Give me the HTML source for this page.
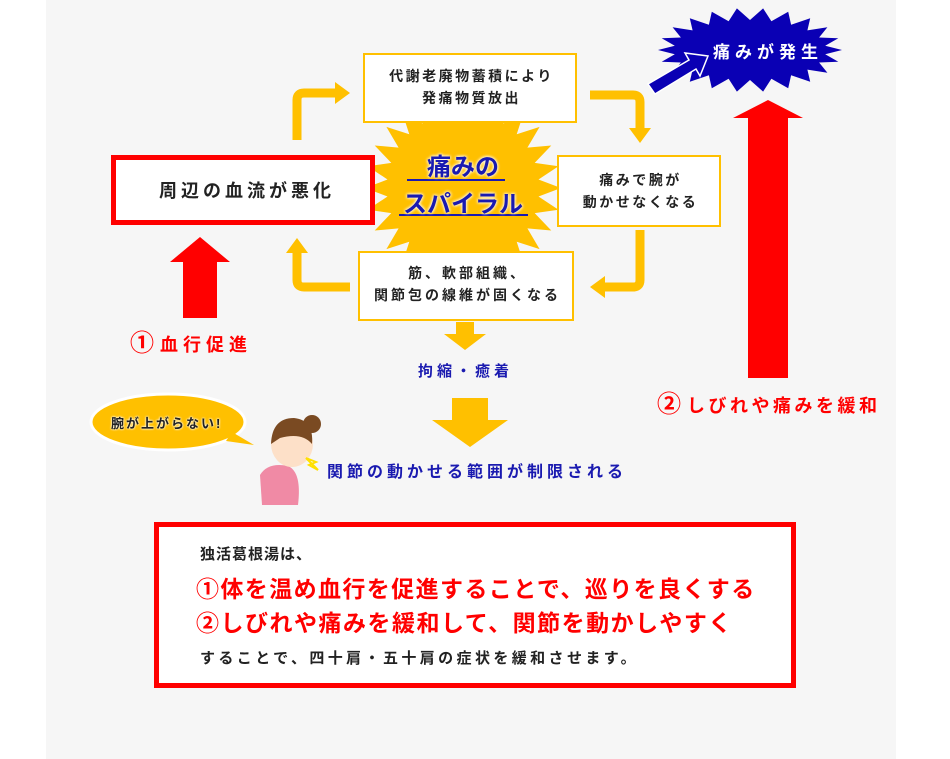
<!DOCTYPE html>
<html><head><meta charset="utf-8"><style>
body{margin:0;width:950px;height:759px;background:#fff;position:relative;overflow:hidden;font-family:"Liberation Sans","Noto Sans CJK JP",sans-serif;font-weight:bold}
.t{position:absolute;white-space:nowrap}
</style></head><body>
<div style="position:absolute;left:46px;top:0;width:850px;height:759px;background:#f6f6f6"></div>
<svg width="950" height="759" style="position:absolute;left:0;top:0">
<polygon id="sb" fill="#ffc000"/>
<polygon id="bb" fill="#0a00b4"/>
<polygon points="648,84 689,60 685,53 708,56 700,76 696,69 655,94" fill="#0a00b4" stroke="#fff" stroke-width="1.5"/>
<rect x="364" y="54" width="212" height="68" fill="#fff" stroke="#ffc000" stroke-width="2"/>
<rect x="558" y="156" width="162" height="70" fill="#fff" stroke="#ffc000" stroke-width="2"/>
<rect x="359" y="252" width="214" height="68" fill="#fff" stroke="#ffc000" stroke-width="2"/>
<rect x="113.5" y="157.5" width="259" height="65" fill="#fff" stroke="#f00" stroke-width="5"/>
<g fill="none" stroke="#ffc000" stroke-width="9">
<path d="M297,140 V100 Q297,93 304,93 H336"/>
<path d="M590,95 H633 Q640,95 640,102 V130"/>
<path d="M640,230 V280 Q640,287 633,287 H604"/>
<path d="M350,287 H304 Q297,287 297,280 V252"/>
</g>
<g fill="#ffc000">
<polygon points="335,82 350,93 335,104"/>
<polygon points="629,128 651,128 640,143"/>
<polygon points="605,276 605,298 590,287"/>
<polygon points="286,253 308,253 297,238"/>
<polygon points="456,322 474,322 474,334 486,334 465,350 444,334 456,334"/>
<polygon points="452,398 488,398 488,420 508,420 470,447 432,420 452,420"/>
</g>
<polygon points="183,318 217,318 217,262 230,262 200,237 170,262 183,262" fill="#f00"/>
<polygon points="748,378 788,378 788,118 803,118 768,100 733,118 748,118" fill="#f00"/>
<ellipse cx="168" cy="422" rx="77" ry="28" fill="#ffc000" stroke="#fff" stroke-width="3"/>
<polygon points="232,432 254,445 226,441" fill="#ffc000"/>
<circle cx="312" cy="424" r="9" fill="#7a4a22"/>
<path d="M262,505 L260,475 Q268,462 288,466 Q302,472 298,505Z" fill="#f08aa5"/>
<ellipse cx="292" cy="444" rx="21" ry="23" fill="#fde0c8"/>
<path d="M271,444 Q272,418 294,418 Q314,420 312,444 Q302,432 280,438Z" fill="#7a4a22"/>
<polygon points="306,458 316,462 309,465 318,470" fill="none" stroke="#ffe000" stroke-width="2"/>
<rect x="156.5" y="524.5" width="637" height="161" fill="#fff" stroke="#f00" stroke-width="5"/>
<line x1="407" y1="180" x2="505" y2="180" stroke="#1a1ab0" stroke-width="2"/>
<line x1="399" y1="215" x2="528" y2="215" stroke="#1a1ab0" stroke-width="2"/>
</svg>
<script>
function star(id,cx,cy,rx,ry,irx,iry,n){var p=[];for(var i=0;i<2*n;i++){var a=Math.PI*i/n;var o=i%2==0;p.push((cx+Math.cos(a)*(o?rx:irx)).toFixed(1)+','+(cy+Math.sin(a)*(o?ry:iry)).toFixed(1));}document.getElementById(id).setAttribute('points',p.join(' '));}
star('sb',463,188,98,98,76,76,28);
star('bb',750,50,92,42,76,30,22);
</script>
<div class="t" style="left:364px;top:65px;width:215px;text-align:center;font-size:14px;line-height:22px;color:#222;letter-spacing:2.5px">代謝老廃物蓄積により<br>発痛物質放出</div>
<div class="t" style="left:558px;top:169px;width:165px;text-align:center;font-size:14px;line-height:22px;color:#222;letter-spacing:2.5px">痛みで腕が<br>動かせなくなる</div>
<div class="t" style="left:359px;top:262px;width:217px;text-align:center;font-size:14px;line-height:22px;color:#222;letter-spacing:3px">筋、軟部組織、<br>関節包の線維が固くなる</div>
<div class="t" style="left:113px;top:177px;width:268px;text-align:center;font-size:18px;color:#222;letter-spacing:4px">周辺の血流が悪化</div>
<div class="t" style="left:380px;top:149px;width:166px;text-align:center;font-size:24px;line-height:37px;color:#1a1ab0;text-shadow:0 0 3px #fff,0 0 3px #fff">痛みの<br>スパイラル</div>
<div class="t" style="left:713px;top:38px;font-size:17px;color:#fff;letter-spacing:5px;text-shadow:0 0 2px #0a00b4">痛みが発生</div>
<div class="t" style="left:418px;top:360px;font-size:15px;color:#1a1ab0;letter-spacing:4px">拘縮・癒着</div>
<div class="t" style="left:327px;top:458px;font-size:16px;color:#1a1ab0;letter-spacing:4px">関節の動かせる範囲が制限される</div>
<div class="t" style="left:111px;top:413px;font-size:13px;color:#222;letter-spacing:2px;text-shadow:0 0 2px #fff,0 0 2px #fff">腕が上がらない!</div>
<div class="t" style="left:130px;top:323px;font-size:24px;color:#f00">①<span style="font-size:18px;letter-spacing:5px;margin-left:6px">血行促進</span></div>
<div class="t" style="left:657px;top:384px;font-size:24px;color:#f00">②<span style="font-size:18px;letter-spacing:3.5px;margin-left:6px">しびれや痛みを緩和</span></div>
<div class="t" style="left:200px;top:543px;font-size:15px;color:#222;letter-spacing:1px">独活葛根湯は、</div>
<div class="t" style="left:196px;top:570px;font-size:23px;color:#f00;letter-spacing:1.4px">①体を温め血行を促進することで、巡りを良くする</div>
<div class="t" style="left:196px;top:604px;font-size:23px;color:#f00;letter-spacing:1.5px">②しびれや痛みを緩和して、関節を動かしやすく</div>
<div class="t" style="left:200px;top:647px;font-size:15px;color:#222;letter-spacing:3.4px">することで、四十肩・五十肩の症状を緩和させます。</div>
</body></html>
